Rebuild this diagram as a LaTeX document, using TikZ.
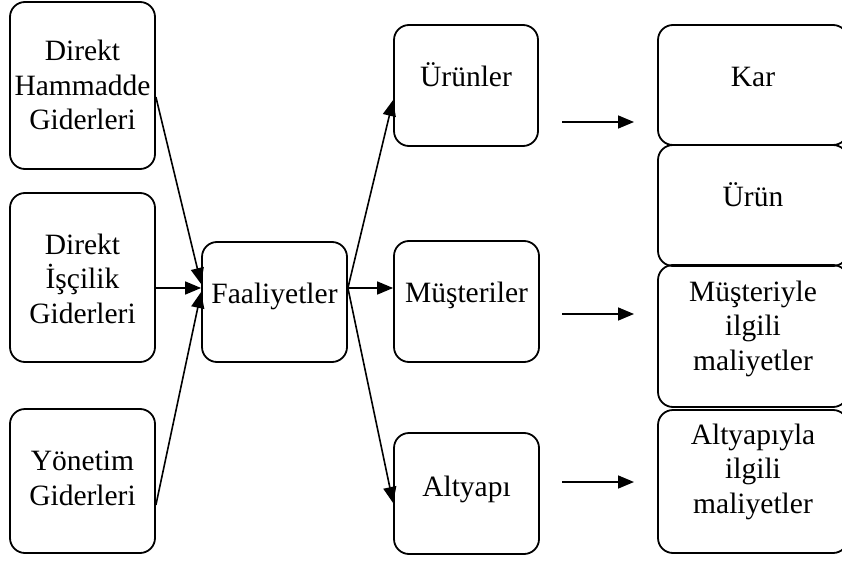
\documentclass[tikz,border=0pt]{standalone}
\usepackage{fontspec}
\setmainfont{Liberation Serif}
\usetikzlibrary{arrows.meta,calc}
\begin{document}
\begin{tikzpicture}[x=1pt,y=-1pt,
  box/.style={draw, line width=1.8pt, rounded corners=15pt, inner sep=0pt},
  lbl/.style={inner sep=0pt, align=center, anchor=base,
    font=\fontsize{29.5}{34.5}\selectfont},
  link/.style={line width=1.6pt, -{Triangle[length=16pt,width=13pt]}}]
\useasboundingbox (0,0) rectangle (842,561);
\clip (0,0) rectangle (842,561);
% cost sources
\node[box, minimum width=145pt, minimum height=167pt] (dhg) at (82.5,85.5) {};
\node[box, minimum width=145pt, minimum height=169pt] (dig) at (82.5,277.5) {};
\node[box, minimum width=145pt, minimum height=144pt] (yg) at (82.5,481) {};
\node[lbl] at (82.5,130) {Direkt\\Hammadde\\Giderleri};
\node[lbl] at (82.5,323) {Direkt\\İşçilik\\Giderleri};
\node[lbl] at (82.5,505) {Yönetim\\Giderleri};
% activities
\node[box, minimum width=145pt, minimum height=120pt] (fa) at (274.5,302) {};
\node[lbl] at (274.5,303) {Faaliyetler};
% cost objects
\node[box, minimum width=144pt, minimum height=121pt] (ur) at (466,85.5) {};
\node[box, minimum width=145pt, minimum height=121pt] (mu) at (466.5,301.5) {};
\node[box, minimum width=145pt, minimum height=121pt] (al) at (466.5,493.5) {};
\node[lbl] at (466,87) {Ürünler};
\node[lbl] at (466.5,302) {Müşteriler};
\node[lbl] at (466.5,496) {Altyapı};
% results
\node[box, minimum width=190pt, minimum height=120pt] (kar) at (753,85) {};
\node[box, minimum width=190pt, minimum height=121pt] (urun) at (753,205.5) {};
\node[box, minimum width=190pt, minimum height=142pt] (mil) at (753,336) {};
\node[box, minimum width=190pt, minimum height=143pt] (ail) at (753,481.5) {};
\node[lbl] at (753,87) {Kar};
\node[lbl] at (753,207) {Ürün};
\node[lbl] at (753,370) {Müşteriyle\\ilgili\\maliyetler};
\node[lbl] at (753,513) {Altyapıyla\\ilgili\\maliyetler};
% connectors
\draw[link] ($(dhg.east)+(0,11.5)$) -- ($(fa.west)+(0,-18)$);
\draw[link] ($(dig.east)+(0,10.5)$) -- ($(fa.west)+(0,-14)$);
\draw[link] ($(yg.east)+(0,24)$) -- ($(fa.west)+(0,-10)$);
\draw[link] ($(fa.east)+(0,-14)$) -- ($(ur.west)+(0,14.5)$);
\draw[link] ($(fa.east)+(0,-14)$) -- ($(mu.west)+(0,-13.5)$);
\draw[link] ($(fa.east)+(0,-14)$) -- ($(al.west)+(0,9.5)$);
\coordinate (s1) at (562,122); \coordinate (e1) at (634,122);
\coordinate (s2) at (562,314); \coordinate (e2) at (634,314);
\coordinate (s3) at (562,482); \coordinate (e3) at (634,482);
\draw[link] (s1) -- (e1);
\draw[link] (s2) -- (e2);
\draw[link] (s3) -- (e3);
\end{tikzpicture}
\end{document}
